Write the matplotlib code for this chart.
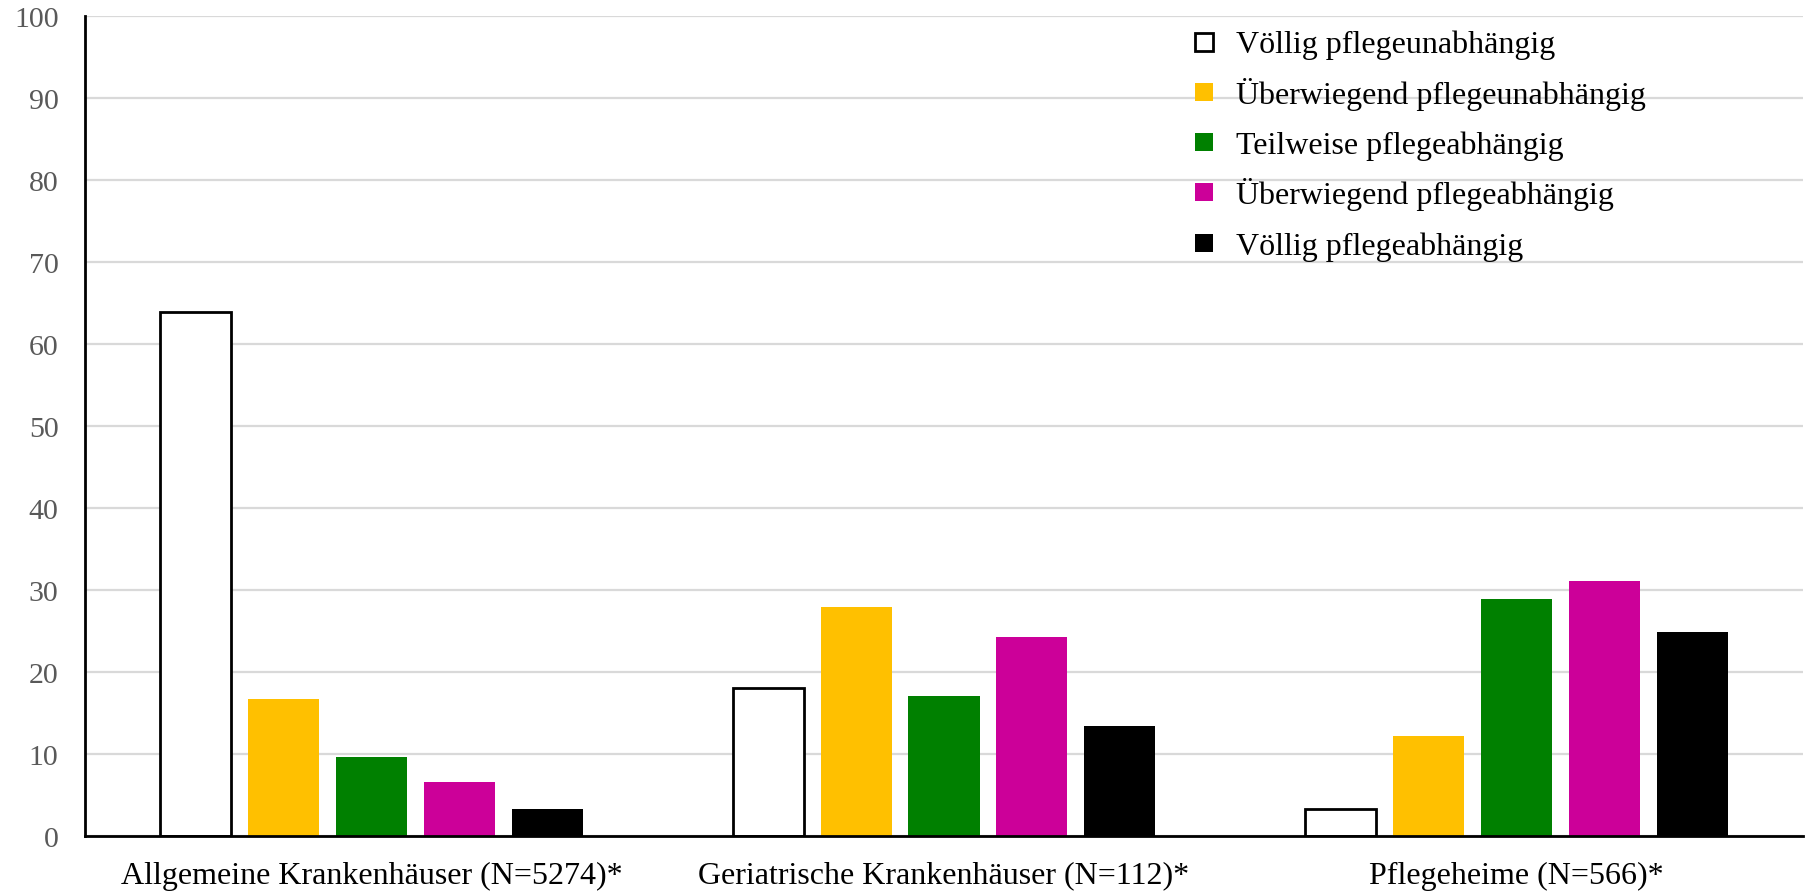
import matplotlib
matplotlib.use("Agg")
import matplotlib.pyplot as plt
from matplotlib.patches import Rectangle
import numpy as np

plt.rcParams['font.family'] = ['Liberation Serif', 'DejaVu Serif']

categories = ["Allgemeine Krankenhäuser (N=5274)*",
              "Geriatrische Krankenhäuser (N=112)*",
              "Pflegeheime (N=566)*"]
series_names = ["Völlig pflegeunabhängig",
                "Überwiegend pflegeunabhängig",
                "Teilweise pflegeabhängig",
                "Überwiegend pflegeabhängig",
                "Völlig pflegeabhängig"]
voellig_unabh = [63.9, 18.0, 3.3]
ueberw_unabh = [16.7, 27.9, 12.2]
teilweise_abh = [9.6, 17.1, 28.9]
ueberw_abh = [6.6, 24.2, 31.1]
voellig_abh = [3.3, 13.4, 24.9]
series_values = [voellig_unabh, ueberw_unabh, teilweise_abh, ueberw_abh, voellig_abh]
face_colors = ["white", "#FFC000", "#008000", "#CC0099", "black"]
yticks = list(range(0, 101, 10))

W, H = 1808, 895
fig = plt.figure(figsize=(W / 100, H / 100), dpi=100)
left, right, top, bottom = 85, 1803, 17.3, 836.7
ax = fig.add_axes([left / W, 1 - bottom / H, (right - left) / W, (bottom - top) / H])

x = np.arange(len(categories))
width = 0.124
pitch = 0.1535
offsets = (np.arange(5) - 2) * pitch
for i, (vals, fc) in enumerate(zip(series_values, face_colors)):
    if fc == "white":
        ax.bar(x + offsets[i], vals, width, color="white", edgecolor="black",
               linewidth=2.0, zorder=3, label=series_names[i])
    else:
        ax.bar(x + offsets[i], vals, width, color=fc, edgecolor="none",
               zorder=3, label=series_names[i])

ax.set_xlim(-0.5, 2.5)
ax.set_ylim(0, 100)
ax.set_yticks(yticks)
ax.set_yticklabels([str(t) for t in yticks], color="#595959", fontsize=21.5)
ax.set_xticks(x)
ax.set_xticklabels(categories, fontsize=23)
ax.tick_params(axis="both", length=0)
ax.tick_params(axis="x", pad=18)
ax.tick_params(axis="y", pad=19)
ax.yaxis.grid(True, color="#D9D9D9", linewidth=1.6, zorder=0)
ax.set_axisbelow(True)
for s in ["top", "right"]:
    ax.spines[s].set_visible(False)
for s in ["left", "bottom"]:
    ax.spines[s].set_linewidth(2.0)
    ax.spines[s].set_color("black")
    ax.spines[s].set_zorder(4)

# Legend: square swatches with evenly spaced rows, no frame
key_x, key_size, text_x = 1195, 18, 1236
row_y0, row_step = 42.5, 50.3
for i, (name, fc) in enumerate(zip(series_names, face_colors)):
    cy = row_y0 + i * row_step
    if fc == "white":
        sw = Rectangle((key_x / W, 1 - (cy + key_size / 2) / H), key_size / W, key_size / H,
                       transform=fig.transFigure, facecolor="white", edgecolor="black",
                       linewidth=2.0)
    else:
        sw = Rectangle((key_x / W, 1 - (cy + key_size / 2) / H), key_size / W, key_size / H,
                       transform=fig.transFigure, facecolor=fc, edgecolor="none")
    fig.patches.append(sw)
    fig.text(text_x / W, 1 - (cy + 11) / H, name, fontsize=23, va="baseline", ha="left",
             color="black")

fig.savefig("out.png", dpi=100)
